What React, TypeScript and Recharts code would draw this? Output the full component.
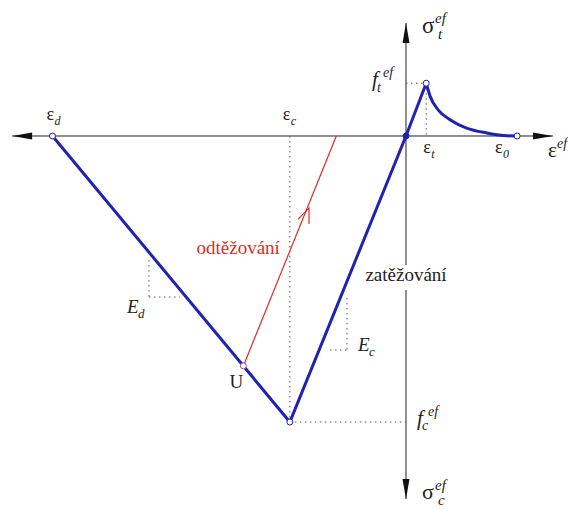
import { ComposedChart, Line, XAxis, YAxis, ReferenceLine, ReferenceDot } from 'recharts'

const W = 568
const H = 509

// characteristic strains / stresses of the material model
const EPS_D = -3.5
const EPS_C = -1.15
const EPS_T = 0.2
const EPS_0 = 1.1
const F_T = 2.4
const F_C = -13
const U_POINT = { x: -1.61, y: -10.45 }

// loading envelope: ε_d -> f_c -> origin -> f_t
const loadStrain = [EPS_D, EPS_C, 0, EPS_T]
const loadStress = [0, F_C, 0, F_T]

// tension softening branch
const softStrain = [0.2, 0.24, 0.32, 0.44, 0.6, 0.8, 1.0, 1.1]
const softStress = [2.4, 1.79, 1.18, 0.73, 0.36, 0.14, 0.01, 0]

// unloading from U, parallel to E_c
const unloadStrain = [U_POINT.x, -0.69]
const unloadStress = [U_POINT.y, 0]

const zip = (xs: number[], ys: number[]) => xs.map((x, i) => ({ x, y: ys[i] }))
const loadData = zip(loadStrain, loadStress)
const softData = zip(softStrain, softStress)
const unloadData = zip(unloadStrain, unloadStress)

const X_DOMAIN: [number, number] = [-4.0198, 1.604]
const Y_DOMAIN: [number, number] = [-16.9545, 6.1818]
const PX_X = W / (X_DOMAIN[1] - X_DOMAIN[0])
const PX_Y = H / (Y_DOMAIN[1] - Y_DOMAIN[0])

const AXIS_X: [number, number] = [-3.9, 1.455]
const AXIS_Y: [number, number] = [-16.5, 5.14]

const BLUE = '#1f22b2'
const RED = '#dd2b2b'
const DOT = '#555'
const SERIF = "'Liberation Serif', 'DejaVu Serif', serif"

type Pt = { cx?: number; cy?: number }

const arrowHead = (dir: 'l' | 'r' | 'u' | 'd') => (p: Pt) => {
  const x = p.cx ?? 0
  const y = p.cy ?? 0
  const L = 20
  const h = 3.5
  let pts = ''
  if (dir === 'l') pts = `${x},${y} ${x + L},${y - h} ${x + L},${y + h}`
  if (dir === 'r') pts = `${x},${y} ${x - L},${y - h} ${x - L},${y + h}`
  if (dir === 'u') pts = `${x},${y} ${x - h},${y + L} ${x + h},${y + L}`
  if (dir === 'd') pts = `${x},${y} ${x - h},${y - L} ${x + h},${y - L}`
  return <polygon points={pts} fill="#111" />
}

// open chevron pointing along the unloading path
const unloadArrow = (p: Pt) => {
  const x = p.cx ?? 0
  const y = p.cy ?? 0
  const dx = (unloadStrain[1] - unloadStrain[0]) * PX_X
  const dy = -(unloadStress[1] - unloadStress[0]) * PX_Y
  const ang = Math.atan2(dy, dx)
  const len = 16
  const spread = (22 * Math.PI) / 180
  const back = ang + Math.PI
  const a = { x: x + len * Math.cos(back - spread), y: y + len * Math.sin(back - spread) }
  const b = { x: x + len * Math.cos(back + spread), y: y + len * Math.sin(back + spread) }
  return (
    <path d={`M${a.x},${a.y} L${x},${y} L${b.x},${b.y}`} stroke={RED} strokeWidth={1.2} fill="none" />
  )
}

const ring = (color: string, filled = false) => (p: Pt) => (
  <circle cx={p.cx} cy={p.cy} r={3} stroke={color} strokeWidth={1} fill={filled ? color : '#fff'} />
)

const T = ({ x, y, size, italic, fill, anchor, children }: { x: number; y: number; size: number; italic?: boolean; fill?: string; anchor?: 'start' | 'middle' | 'end'; children: string }) => (
  <text
    x={x}
    y={y}
    fontFamily="Liberation Serif"
    fontSize={size}
    fontStyle={italic ? 'italic' : 'normal'}
    fill={fill ?? '#222'}
    textAnchor={anchor ?? 'start'}
    style={{ fontFamily: SERIF, fontSize: size, fontStyle: italic ? 'italic' : 'normal' }}
  >
    {children}
  </text>
)

// symbol with optional italic subscript and superscript
const sym = (
  base: string,
  opts: { dx: number; dy: number; size: number; italic?: boolean; sub?: string; sup?: string; subDx?: number; supDx?: number }
) => (p: Pt) => {
  const x = (p.cx ?? 0) + opts.dx
  const y = (p.cy ?? 0) + opts.dy
  const s = Math.round(opts.size * 0.66)
  return (
    <g>
      <T x={x} y={y} size={opts.size} italic={opts.italic}>{base}</T>
      {opts.sup && <T x={x + (opts.supDx ?? 0)} y={y - opts.size * 0.42} size={s} italic>{opts.sup}</T>}
      {opts.sub && <T x={x + (opts.subDx ?? 0)} y={y + opts.size * 0.26} size={s} italic>{opts.sub}</T>}
    </g>
  )
}

const word = (text: string, dx: number, dy: number, color: string, anchor: 'start' | 'middle' | 'end', gap = false) => (p: Pt) => {
  const x = (p.cx ?? 0) + dx
  const y = (p.cy ?? 0) + dy
  return (
    <g>
      {gap && <rect x={x - 42} y={y - 16} width={84} height={25} fill="#fff" />}
      <T x={x} y={y} size={19} fill={color} anchor={anchor}>{text}</T>
    </g>
  )
}

const dotted = { stroke: DOT, strokeWidth: 1, strokeDasharray: '1.5 3.5' }

export default function App() {
  return (
    <div style={{ position: 'absolute', left: 0, top: 0, width: W, height: H, background: '#fff', fontFamily: SERIF }}>
      <ComposedChart width={W} height={H} margin={{ top: 0, right: 0, bottom: 0, left: 0 }} style={{ fontFamily: SERIF }}>
        <XAxis type="number" dataKey="x" domain={X_DOMAIN} allowDataOverflow hide />
        <YAxis type="number" dataKey="y" domain={Y_DOMAIN} allowDataOverflow hide />

        {/* coordinate axes */}
        <ReferenceLine segment={[{ x: AXIS_X[0], y: 0 }, { x: AXIS_X[1], y: 0 }]} stroke="#222" strokeWidth={1} />
        <ReferenceLine segment={[{ x: 0, y: AXIS_Y[0] }, { x: 0, y: AXIS_Y[1] }]} stroke="#222" strokeWidth={1} />

        {/* projection lines */}
        <ReferenceLine segment={[{ x: EPS_C, y: 0 }, { x: EPS_C, y: F_C }]} {...dotted} />
        <ReferenceLine segment={[{ x: EPS_C, y: F_C }, { x: 0, y: F_C }]} {...dotted} />
        <ReferenceLine segment={[{ x: 0, y: F_T }, { x: EPS_T, y: F_T }]} {...dotted} />
        <ReferenceLine segment={[{ x: EPS_T, y: F_T }, { x: EPS_T, y: 0 }]} {...dotted} />

        {/* slope triangles */}
        <ReferenceLine segment={[{ x: -2.545, y: -5.64 }, { x: -2.545, y: -7.32 }]} {...dotted} />
        <ReferenceLine segment={[{ x: -2.545, y: -7.32 }, { x: -2.24, y: -7.32 }]} {...dotted} />
        <ReferenceLine segment={[{ x: -0.584, y: -7.36 }, { x: -0.584, y: -9.73 }]} {...dotted} />
        <ReferenceLine segment={[{ x: -0.752, y: -9.73 }, { x: -0.584, y: -9.73 }]} {...dotted} />

        <Line data={unloadData} dataKey="y" type="linear" stroke={RED} strokeWidth={1.2} dot={false} activeDot={false} isAnimationActive={false} />
        <Line data={loadData} dataKey="y" type="linear" stroke={BLUE} strokeWidth={3} dot={false} activeDot={false} isAnimationActive={false} />
        <Line data={softData} dataKey="y" type="monotone" stroke={BLUE} strokeWidth={3} dot={false} activeDot={false} isAnimationActive={false} />

        <ReferenceDot x={AXIS_X[0]} y={0} r={0} shape={arrowHead('l')} />
        <ReferenceDot x={AXIS_X[1]} y={0} r={0} shape={arrowHead('r')} />
        <ReferenceDot x={0} y={AXIS_Y[1]} r={0} shape={arrowHead('u')} />
        <ReferenceDot x={0} y={AXIS_Y[0]} r={0} shape={arrowHead('d')} />
        <ReferenceDot x={-0.96} y={-3.27} r={0} shape={unloadArrow} />

        <ReferenceDot x={EPS_D} y={0} r={3} shape={ring(BLUE)} />
        <ReferenceDot x={EPS_C} y={F_C} r={3} shape={ring(BLUE)} />
        <ReferenceDot x={EPS_T} y={F_T} r={3} shape={ring(BLUE)} />
        <ReferenceDot x={EPS_0} y={0} r={3} shape={ring(BLUE)} />
        <ReferenceDot x={0} y={0} r={3} shape={ring(BLUE, true)} />
        <ReferenceDot x={U_POINT.x} y={U_POINT.y} r={3} shape={ring('#b0508a')} />

        {/* labels */}
        <ReferenceDot x={EPS_D} y={0} r={0} shape={sym('ε', { dx: -6, dy: -16, size: 18, sub: 'd', subDx: 8 })} />
        <ReferenceDot x={EPS_C} y={0} r={0} shape={sym('ε', { dx: -7, dy: -16, size: 18, sub: 'c', subDx: 8 })} />
        <ReferenceDot x={EPS_T} y={0} r={0} shape={sym('ε', { dx: -3, dy: 17, size: 18, sub: 't', subDx: 8 })} />
        <ReferenceDot x={EPS_0} y={0} r={0} shape={sym('ε', { dx: -22, dy: 17, size: 18, sub: '0', subDx: 8 })} />
        <ReferenceDot x={AXIS_X[1]} y={0} r={0} shape={sym('ε', { dx: -5, dy: 21, size: 21, sup: 'ef', supDx: 9 })} />
        <ReferenceDot x={0} y={AXIS_Y[1]} r={0} shape={sym('σ', { dx: 16, dy: 10, size: 23, sup: 'ef', supDx: 13, sub: 't', subDx: 16 })} />
        <ReferenceDot x={0} y={AXIS_Y[0]} r={0} shape={sym('σ', { dx: 16, dy: 0, size: 22, sup: 'ef', supDx: 13, sub: 'c', subDx: 16 })} />
        <ReferenceDot x={0} y={F_T} r={0} shape={sym('f', { dx: -34, dy: 3, size: 21, italic: true, sup: 'ef', supDx: 11, sub: 't', subDx: 5 })} />
        <ReferenceDot x={0} y={F_C} r={0} shape={sym('f', { dx: 11, dy: 3, size: 21, italic: true, sup: 'ef', supDx: 11, sub: 'c', subDx: 5 })} />
        <ReferenceDot x={-2.545} y={-7.32} r={0} shape={sym('E', { dx: -22, dy: 16, size: 19, italic: true, sub: 'd', subDx: 11 })} />
        <ReferenceDot x={-0.584} y={-9.73} r={0} shape={sym('E', { dx: 11, dy: 1, size: 19, italic: true, sub: 'c', subDx: 11 })} />
        <ReferenceDot x={U_POINT.x} y={U_POINT.y} r={0} shape={sym('U', { dx: -14, dy: 22, size: 19 })} />

        <ReferenceDot x={-1.15} y={-5.2} r={0} shape={word('odtěžování', -10, 4, RED, 'end')} />
        <ReferenceDot x={0} y={0} r={0} shape={word('zatěžování', 0, 145, '#222', 'middle', true)} />
      </ComposedChart>
    </div>
  )
}
